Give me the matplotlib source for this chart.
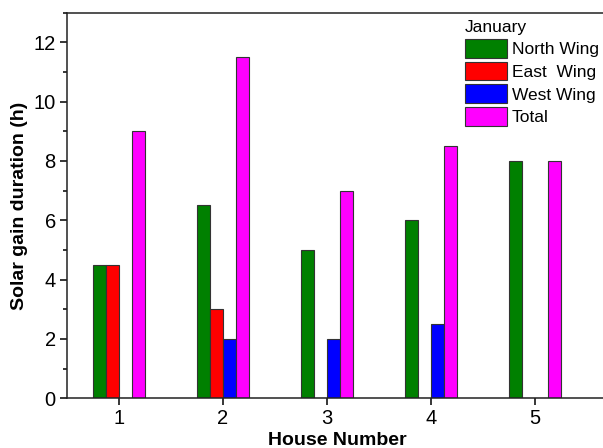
import numpy as np
import matplotlib
matplotlib.use('Agg')
import matplotlib.pyplot as plt
from matplotlib.ticker import MultipleLocator

plt.rcParams['font.family'] = ['Liberation Sans', 'DejaVu Sans']

houses = [1, 2, 3, 4, 5]
north_wing = [4.5, 6.5, 5.0, 6.0, 8.0]
east_wing = [4.5, 3.0, 0.0, 0.0, 0.0]
west_wing = [0.0, 2.0, 2.0, 2.5, 0.0]
total = [9.0, 11.5, 7.0, 8.5, 8.0]

series = [('North Wing', north_wing, '#008000'),
          ('East  Wing', east_wing, '#ff0000'),
          ('West Wing', west_wing, '#0000ff'),
          ('Total', total, '#ff00ff')]

fig = plt.figure(figsize=(6.03, 4.48), dpi=100)
ax = fig.add_axes([0.111, 0.111, 0.897, 0.861])

w = 0.126
x = np.array(houses, dtype=float)
for i, (name, vals, col) in enumerate(series):
    ax.bar(x + (i - 1.5) * w, vals, width=w, color=col, edgecolor='#333333',
           linewidth=0.8, label=name)

ax.set_xlim(0.5, 5.7)
ax.set_ylim(0, 13)
ax.set_xticks(houses)
ax.yaxis.set_major_locator(MultipleLocator(2))
ax.yaxis.set_minor_locator(MultipleLocator(1))
ax.tick_params(axis='both', which='major', direction='out', length=5, width=1.1,
               labelsize=14.5, pad=3)
ax.tick_params(axis='y', which='minor', direction='out', length=3, width=1.1)
ax.spines['right'].set_visible(False)
for s in ['left', 'bottom', 'top']:
    ax.spines[s].set_linewidth(1.1)
    ax.spines[s].set_color('#222222')

ax.set_xlabel('House Number', fontsize=14, fontweight='bold', labelpad=2.5)
ax.set_ylabel('Solar gain duration (h)', fontsize=14, fontweight='bold', labelpad=4)

leg = ax.legend(loc='upper left', bbox_to_anchor=(465 / 603, 1 - 20 / 448),
                bbox_transform=fig.transFigure, frameon=False, fontsize=12.5,
                title='January', title_fontsize=12.5, alignment='left',
                handlelength=2.4, handleheight=1.3, labelspacing=0.22,
                handletextpad=0.3, borderpad=0, borderaxespad=0)

fig.savefig('out.png', dpi=100)
